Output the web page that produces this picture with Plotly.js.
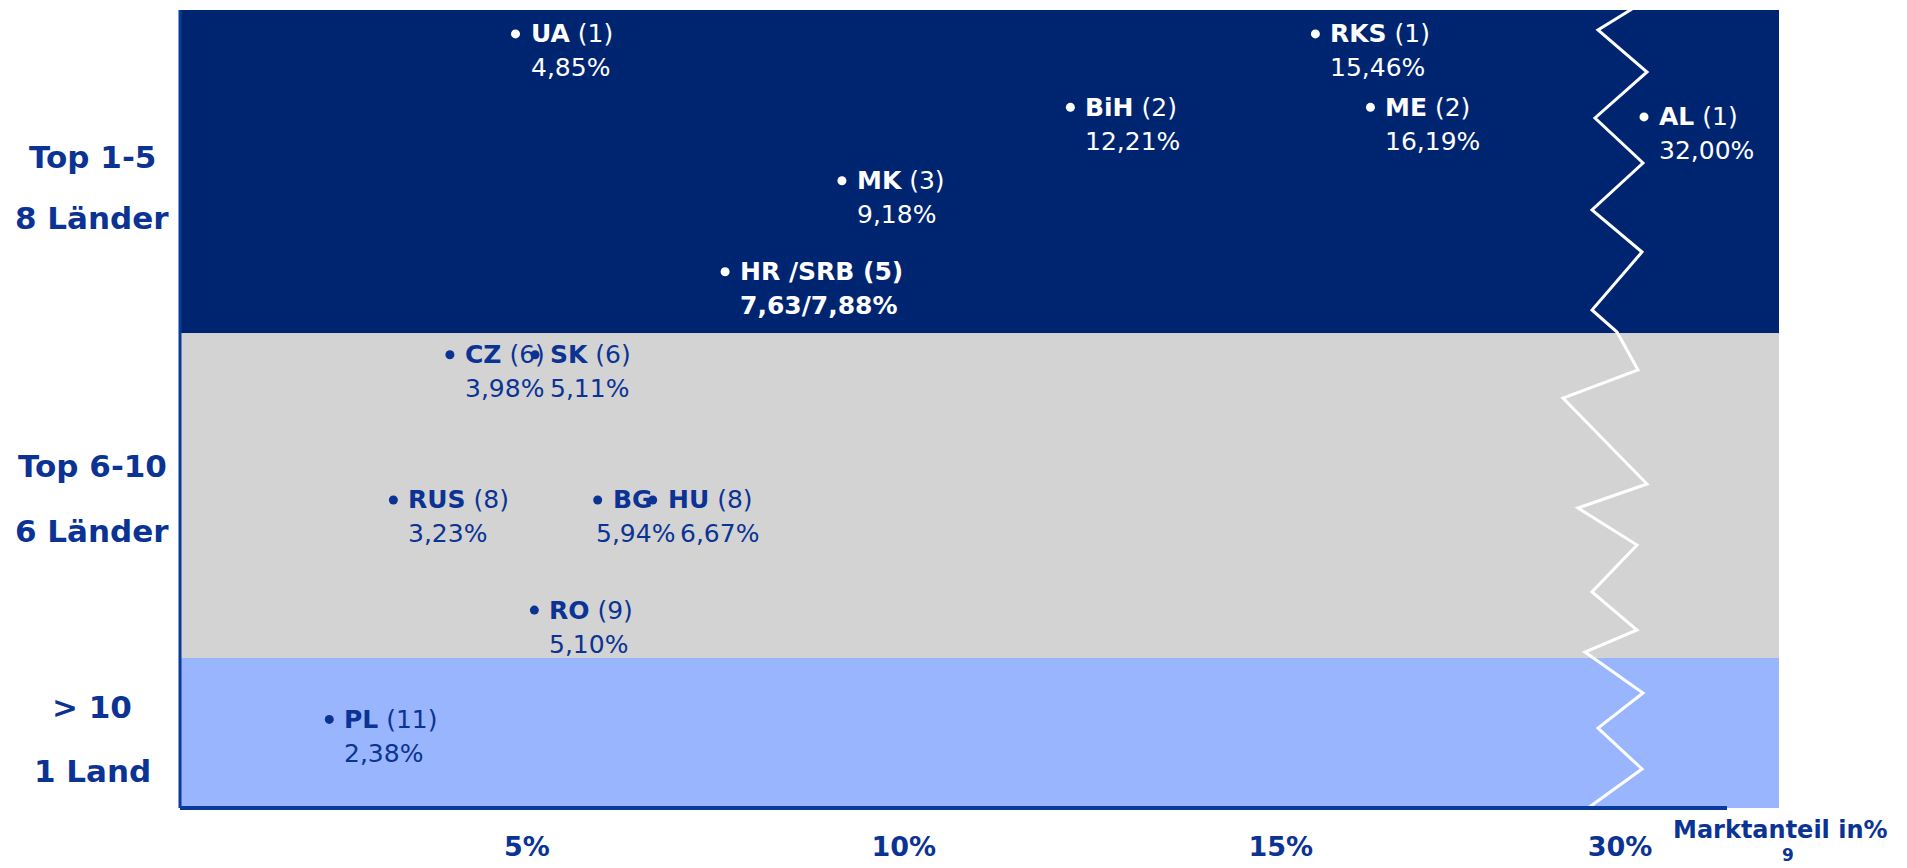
<!DOCTYPE html>
<html>
<head>
<meta charset="utf-8">
<script src="https://cdn.plot.ly/plotly-3.0.1.min.js"></script>
<style>
  html, body { margin: 0; padding: 0; background: #ffffff; }
  #chart { width: 1907px; height: 868px; }
</style>
</head>
<body>
<div id="chart"></div>
<script>
// ---------------- data ----------------
const countries   = ['UA', 'RKS', 'BiH', 'ME', 'AL', 'MK', 'HR /SRB', 'CZ', 'SK', 'RUS', 'BG', 'HU', 'RO', 'PL'];
const marketShare = [4.85, 15.46, 12.21, 16.19, 32.00, 9.18, 7.63, 3.98, 5.11, 3.23, 5.94, 6.67, 5.10, 2.38];
const shareText   = ['4,85%', '15,46%', '12,21%', '16,19%', '32,00%', '9,18%', '7,63/7,88%', '3,98%', '5,11%', '3,23%', '5,94%', '6,67%', '5,10%', '2,38%'];
const rank        = [1, 1, 2, 2, 1, 3, 5, 6, 6, 8, 8, 8, 9, 11];
const rankText    = ['(1)', '(1)', '(2)', '(2)', '(1)', '(3)', '(5)', '(6)', '(6)', '(8)', '', '(8)', '(9)', '(11)'];
const rowPos      = [97.0, 97.0, 87.8, 87.8, 86.6, 78.6, 67.2, 56.8, 56.8, 38.6, 38.6, 38.6, 24.8, 11.1];

const tierLine1   = ['Top 1-5', 'Top 6-10', '> 10'];
const tierLine2   = ['8 Länder', '6 Länder', '1 Land'];
const tierMaxRank = [5, 10, 99];
const tierTop     = [100, 59.5, 18.8];
const tierBottom  = [59.5, 18.8, 0];

const tickVals    = [5, 10, 15];
const tickText    = ['5%', '10%', '15%'];
const breakTickVals = [30];
const breakTickText = ['30%'];
const axisTitle   = 'Marktanteil in%';
const pageNumber  = '9';

// ---------------- style / layout settings ----------------
const FONT = 'DejaVu Sans, Verdana, sans-serif';
const NAVY = '#002570';
const GREY = '#d3d3d3';
const LIGHT = '#98b5fd';
const INK = '#0b3394';
const AXIS = '#0a3a9a';
const tierFill = [NAVY, GREY, LIGHT];
const tierInk  = ['#ffffff', INK, INK];
const tierLabelY = [[81.6, 73.9], [42.9, 34.7], [12.7, 4.6]];
const emphasised = ['HR /SRB'];
const valueShift = { 'BG': -17, 'HU': 12 };
const LABEL_SIZE = 25;

const W = 1907, H = 868;
const M = { l: 180, r: 128, t: 10, b: 60 };
const plotW = W - M.l - M.r, plotH = H - M.t - M.b;
const breakPx = 1620 - M.l;              // where the axis break sits
const split = breakPx / plotW;            // paper fraction of the break
const mainRange = [0.4, 19.5];
const breakRange = [30, 30 + (plotW - breakPx) / 12];

// decorative zig-zag of the axis break (pixel offsets)
const waveDx = [12, -22, 27, -25, 23, -28, 22, -28, -3, 18, -57, 27, -42, 17, -28, 17, -35, 23, -22, 22, -32];
const waveY  = [9, 30, 72, 118, 163, 210, 252, 310, 332, 370, 398, 484, 508, 545, 592, 630, 652, 693, 728, 769, 808];

// ---------------- build ----------------
function tierOf(r) { return tierMaxRank.findIndex(m => r <= m); }

const mainIdx = [], brkIdx = [];
marketShare.forEach((v, i) => (v > mainRange[1] ? brkIdx : mainIdx).push(i));

function markerTrace(idx, xa) {
  return {
    type: 'scatter', mode: 'markers', xaxis: xa, yaxis: 'y',
    x: idx.map(i => marketShare[i]), y: idx.map(i => rowPos[i]),
    marker: { size: 9, color: idx.map(i => tierInk[tierOf(rank[i])]) },
    hoverinfo: 'skip', showlegend: false, cliponaxis: false
  };
}
const data = [markerTrace(mainIdx, 'x'), markerTrace(brkIdx, 'x2')];

const annotations = [];
countries.forEach((c, i) => {
  const xref = marketShare[i] > mainRange[1] ? 'x2' : 'x';
  const ink = tierInk[tierOf(rank[i])];
  const strong = emphasised.includes(c);
  const nameTxt = strong ? `<b>${c} ${rankText[i]}</b>` : `<b>${c}</b>${rankText[i] ? ' ' + rankText[i] : ''}`;
  const valTxt = strong ? `<b>${shareText[i]}</b>` : shareText[i];
  annotations.push({
    xref: xref, yref: 'y', x: marketShare[i], y: rowPos[i], text: nameTxt,
    showarrow: false, xanchor: 'left', yanchor: 'middle', xshift: 13, yshift: 0,
    font: { family: FONT, size: LABEL_SIZE, color: ink }
  });
  annotations.push({
    xref: xref, yref: 'y', x: marketShare[i], y: rowPos[i], text: valTxt,
    showarrow: false, xanchor: 'left', yanchor: 'middle',
    xshift: 13 + (valueShift[c] || 0), yshift: -34,
    font: { family: FONT, size: LABEL_SIZE, color: ink }
  });
});

const labelX = (92 - M.l) / plotW;
tierLine1.forEach((t, k) => {
  [t, tierLine2[k]].forEach((txt, j) => {
    annotations.push({
      xref: 'paper', yref: 'y', x: labelX, y: tierLabelY[k][j], text: `<b>${txt}</b>`,
      showarrow: false, xanchor: 'center', yanchor: 'middle',
      font: { family: FONT, size: 31, color: INK }
    });
  });
});

annotations.push({
  xref: 'paper', yref: 'paper', x: (1780 - M.l) / plotW, y: (808 - 830) / plotH,
  text: `<b>${axisTitle}</b>`, showarrow: false, xanchor: 'center', yanchor: 'middle',
  font: { family: FONT, size: 24, color: INK }
});
annotations.push({
  xref: 'paper', yref: 'paper', x: (1788 - M.l) / plotW, y: (808 - 855) / plotH,
  text: `<b>${pageNumber}</b>`, showarrow: false, xanchor: 'center', yanchor: 'middle',
  font: { family: FONT, size: 17, color: INK }, borderpad: 0
});

const shapes = [];
tierFill.forEach((f, k) => {
  shapes.push({
    type: 'rect', xref: 'paper', yref: 'y', x0: 0, x1: 1, y0: tierBottom[k], y1: tierTop[k],
    fillcolor: f, line: { width: 0 }, layer: 'below'
  });
});
const wavePath = waveDx.map((dx, i) => {
  const px = (breakPx + dx) / plotW;
  const py = (808 - waveY[i]) / plotH;
  return (i === 0 ? 'M' : 'L') + px.toFixed(5) + ',' + py.toFixed(5);
}).join(' ');
shapes.push({ type: 'path', xref: 'paper', yref: 'paper', path: wavePath,
  line: { color: '#ffffff', width: 3 }, layer: 'below' });
shapes.push({ type: 'line', xref: 'paper', yref: 'paper', x0: 0, x1: 0, y0: 0, y1: 1,
  line: { color: AXIS, width: 3 }, layer: 'below' });
shapes.push({ type: 'line', xref: 'paper', yref: 'paper', x0: 0, x1: (1727 - M.l) / plotW, y0: 0, y1: 0,
  line: { color: AXIS, width: 4 }, layer: 'below' });

const tickFont = { family: FONT, size: 27, color: INK, weight: 'bold' };
const layout = {
  width: W, height: H, margin: M,
  paper_bgcolor: '#ffffff', plot_bgcolor: 'rgba(0,0,0,0)',
  showlegend: false,
  xaxis: {
    domain: [0, split], range: mainRange, tickvals: tickVals, ticktext: tickText,
    showgrid: false, zeroline: false, showline: false, ticks: '', tickfont: tickFont,
    ticklabelstandoff: 20, fixedrange: true
  },
  xaxis2: {
    domain: [split, 1], range: breakRange, anchor: 'y', tickvals: breakTickVals, ticktext: breakTickText,
    showgrid: false, zeroline: false, showline: false, ticks: '', tickfont: tickFont,
    ticklabelstandoff: 20, fixedrange: true
  },
  yaxis: { range: [0, 100], visible: false, fixedrange: true },
  shapes: shapes,
  annotations: annotations
};

Plotly.newPlot('chart', data, layout, { displayModeBar: false, staticPlot: true });
</script>
</body>
</html>
